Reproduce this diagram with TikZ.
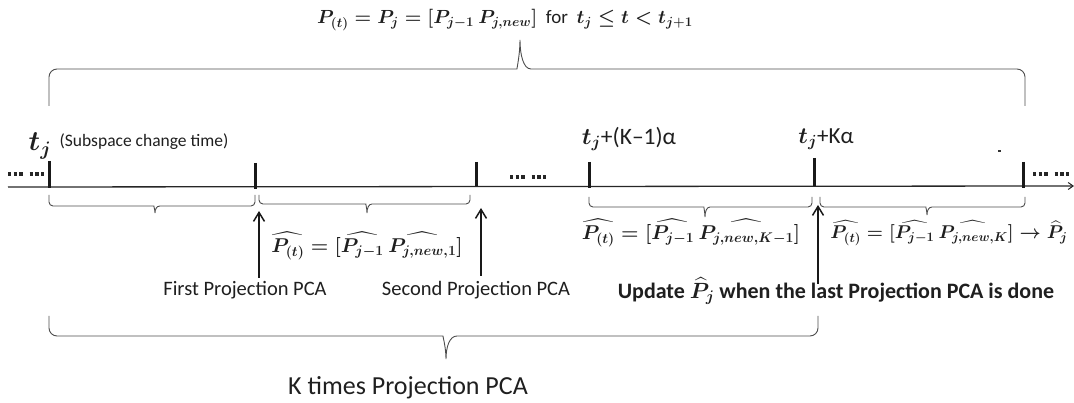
\RequirePackage{fix-cm}
\documentclass[tikz,border=0pt]{standalone}
\usepackage{amsmath}
\usepackage{fontspec}
\setmainfont{Carlito}
\usetikzlibrary{arrows.meta}
\newcommand\fsz[1]{\fontsize{#1}{#1}\selectfont}
% xl xr xt yend yline ytip corner-radius tip-halfwidth
\newcommand\mybrc[8]{%
  \draw[brc] (#1,#4) [rounded corners=#7] -- (#1,#5) -- ({#3-#8},#5) [sharp corners]
    .. controls ({#3-0.3*#8},#5) and (#3,{#5+0.5*(#6-#5)}) .. (#3,#6)
    .. controls (#3,{#5+0.5*(#6-#5)}) and ({#3+0.3*#8},#5) .. ({#3+#8},#5)
    [rounded corners=#7] -- (#2,#5) -- (#2,#4);}
\tikzset{
  axisl/.style={line width=1.3pt, draw=black!85, -{Straight Barb[length=5pt,width=7pt,line width=1pt]}},
  tickl/.style={line width=3pt, draw=black!90},
  dotl/.style={line width=3.3pt, dash pattern=on 3.3pt off 2.4pt on 3.3pt off 2.4pt on 3.3pt off 7pt, draw=black!85},
  brc/.style={line width=0.9pt, draw=black!70},
  arr/.style={line width=1.5pt, draw=black!90, -{Straight Barb[length=9pt,width=11pt,line width=1.5pt]}},
  lbl/.style={inner sep=0pt, text=black!88},
  fml/.style={lbl, font=\boldmath\fsz{#1}},
}
\begin{document}
\begin{tikzpicture}[x=1pt,y=-1pt]
\useasboundingbox (0,0) rectangle (1074,403);
% top formula and brace
\node[fml=19] (topf) at (505,20) {$P_{(t)} = P_j = [P_{j-1}\ P_{j,new}]$ \ for \ $t_j \leq t < t_{j+1}$};
\mybrc{49}{1025}{520}{106}{69}{40}{8}{11}
% axis
\coordinate (axs) at (8,187);
\coordinate (axe) at (1074,186);
\draw[axisl] (axs) -- (axe);
% ticks
\foreach \n/\x/\ya/\yb in {1/49/161/188, 2/255/163/189, 3/476/162/186, 4/589/162/188, 5/814/158/186, 6/1023/162/188}{
  \coordinate (tk\n a) at (\x,\ya);
  \coordinate (tk\n b) at (\x,\yb);
  \draw[tickl] (tk\n a) -- (tk\n b);
}
% dotted runs
\coordinate (d1a) at (8,174); \coordinate (d1b) at (47,174);
\coordinate (d2a) at (510,177); \coordinate (d2b) at (553,177);
\coordinate (d3a) at (1033,174); \coordinate (d3b) at (1073,174);
\draw[dotl] (d1a) -- (d1b);
\draw[dotl] (d2a) -- (d2b);
\draw[dotl] (d3a) -- (d3b);
\fill[black!80] (998,150) rectangle (1000.5,152.5);
% time labels
\node[fml=28] (tj) at (40,146) {$t_j$};
\node[lbl,font=\fsz{17.5}] (sub) at (144,142) {(Subspace change time)};
\node[lbl,font=\boldmath\fsz{23.5}] (tK1) at (629,139) {$t_j$+(K–1)α};
\node[lbl,font=\boldmath\fsz{23}] (tK) at (826,139) {$t_j$+Kα};
% lower braces
\mybrc{49}{255}{155}{195}{206}{213}{4}{5}
\mybrc{259}{470}{367}{195}{204}{213}{4}{5}
\mybrc{589}{812}{705}{197}{207}{217}{4}{5}
\mybrc{820}{1025}{927}{197}{207}{215}{4}{5}
% formulas
\node[fml=20] (f1) at (367,246) {$\widehat{P_{(t)}} = [\widehat{P_{j-1}}\ \widehat{P_{j,new,1}}]$};
\node[fml=20] (f2) at (691,233) {$\widehat{P_{(t)}} = [\widehat{P_{j-1}}\ \widehat{P_{j,new,K-1}}]$};
\node[fml=18.5] (f3) at (949,233) {$\widehat{P_{(t)}} = [\widehat{P_{j-1}}\ \widehat{P_{j,new,K}}] \rightarrow \widehat{P}_j$};
% arrows
\coordinate (a1s) at (259,278); \coordinate (a1e) at (259,211);
\coordinate (a2s) at (481,276); \coordinate (a2e) at (481,208);
\coordinate (a3s) at (818,284); \coordinate (a3e) at (818,205);
\draw[arr] (a1s) -- (a1e);
\draw[arr] (a2s) -- (a2e);
\draw[arr] (a3s) -- (a3e);
% captions
\node[lbl,font=\fsz{20.5}] (first) at (245,290) {First Projection PCA};
\node[lbl,font=\fsz{20.5}] (second) at (476,290) {Second Projection PCA};
\node[lbl,font=\bfseries\boldmath\fsz{22}] (upd) at (836,291) {Update $\widehat{P}_j$ when the last Projection PCA is done};
% bottom brace
\mybrc{49}{818}{446}{316}{336}{359}{8}{11}
\node[lbl,font=\fsz{26}] (ktimes) at (408,388) {K times Projection PCA};
\end{tikzpicture}
\end{document}
